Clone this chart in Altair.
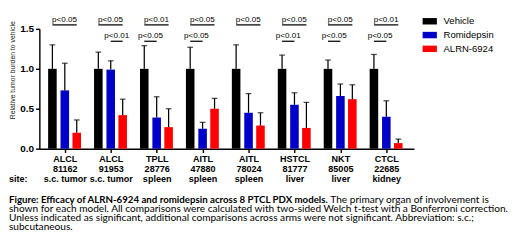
import json
import altair as alt
import pandas as pd

# ---------------- data ----------------
models = ["ALCL", "ALCL", "TPLL", "AITL", "AITL", "HSTCL", "NKT", "CTCL"]
model_ids = ["81162", "91953", "28776", "47880", "78024", "81777", "85005", "22685"]
sites = ["s.c. tumor", "s.c. tumor", "spleen", "spleen", "spleen", "liver", "liver", "kidney"]

series = ["Vehicle", "Romidepsin", "ALRN-6924"]
colors = ["#000000", "#0000c8", "#ff0000"]

vehicle = [1.0, 1.0, 1.0, 1.0, 1.0, 1.0, 1.0, 1.0]
vehicle_sd = [0.30, 0.21, 0.29, 0.27, 0.30, 0.17, 0.11, 0.18]
romidepsin = [0.73, 0.99, 0.39, 0.25, 0.45, 0.55, 0.66, 0.40]
romidepsin_sd = [0.34, 0.11, 0.26, 0.08, 0.24, 0.15, 0.15, 0.20]
alrn = [0.20, 0.42, 0.27, 0.50, 0.29, 0.26, 0.62, 0.07]
alrn_sd = [0.16, 0.20, 0.23, 0.13, 0.16, 0.32, 0.18, 0.05]

top_labels = ["p<0.05", "p<0.05", "p<0.01", "p<0.05", "p<0.05", "p<0.05", "p<0.05", "p<0.01"]
second_labels = [None, "p<0.01", "p<0.05", "p<0.05", None, "p<0.01", "p<0.05", "p<0.05"]
second_pairs = [None, (1, 2), (0, 1), (0, 1), None, (0, 1), (0, 1), (0, 1)]

caption_bold = "Figure: Efficacy of ALRN-6924 and romidepsin across 8 PTCL PDX models."
caption_first = "The primary organ of involvement is"
caption_rest = [
    "shown for each model.  All comparisons were calculated with two-sided Welch t-test with a Bonferroni correction.",
    "Unless indicated as significant, additional comparisons across arms were not significant. Abbreviation: s.c.;",
    "subcutaneous.",
]
y_title = "Relative tumor burden to vehicle"

# ---------------- build tables ----------------
offsets = [-0.27, 0.0, 0.26]
vals = [vehicle, romidepsin, alrn]
sds = [vehicle_sd, romidepsin_sd, alrn_sd]
rows = []
for g in range(len(models)):
    for s in range(3):
        rows.append({
            "pos": g + offsets[s],
            "value": vals[s][g],
            "top": vals[s][g] + sds[s][g],
            "series": series[s],
        })
bars_df = pd.DataFrame(rows)

ann_rows = []
for g in range(len(models)):
    ann_rows.append({"x1": g + offsets[0], "x2": g + offsets[2], "y": 1.55, "label": top_labels[g]})
    if second_labels[g]:
        a, b = second_pairs[g]
        ann_rows.append({"x1": g + offsets[a], "x2": g + offsets[b], "y": 1.345, "label": second_labels[g]})
ann_df = pd.DataFrame(ann_rows)
ann_df["xm"] = (ann_df["x1"] + ann_df["x2"]) / 2

label_arr = [[m, i, s] for m, i, s in zip(models, model_ids, sites)]
label_expr = json.dumps(label_arr) + "[datum.value]"

FONT = "Liberation Sans"
CAP_FONT = "Lato"
W, H = 394, 126

x_scale = alt.Scale(domain=[-0.45, 7.5], nice=False, zero=False)
y_scale = alt.Scale(domain=[0, 1.5], nice=False)

x_axis = alt.Axis(
    values=list(range(len(models))), labelExpr=label_expr, title=None, grid=False,
    domainColor="black", domainWidth=1.5, tickColor="black", tickWidth=1.5, tickSize=4,
    labelPadding=2, labelFont=FONT, labelFontSize=9.5, labelFontWeight="bold",
    labelColor="black", labelLineHeight=10.5, labelAngle=0, labelBaseline="top",
    labelOverlap=False, labelFlush=False,
)
y_axis = alt.Axis(
    values=[0, 0.5, 1.0, 1.5], format=".1f", title=y_title, grid=False,
    domainColor="black", domainWidth=1.5, tickColor="black", tickWidth=1.5, tickSize=4,
    labelPadding=2, labelFont=FONT, labelFontSize=10.5, labelFontWeight="bold",
    labelColor="black", titleFont=FONT, titleFontSize=7.2, titleFontWeight="normal",
    titleColor="#222222", titlePadding=4, titleY=43,
)

legend = alt.Legend(
    title=None, orient="none", legendX=403, legendY=-15.5,
    symbolType="M-1,-0.45L1,-0.45L1,0.45L-1,0.45Z", symbolSize=225, symbolStrokeWidth=0,
    labelFont=FONT, labelFontSize=10, labelColor="black", labelOffset=7, rowPadding=1.5,
)

bars = alt.Chart(bars_df).mark_bar(size=9).encode(
    x=alt.X("pos:Q", scale=x_scale, axis=x_axis),
    y=alt.Y("value:Q", scale=y_scale, axis=y_axis),
    color=alt.Color("series:N", scale=alt.Scale(domain=series, range=colors), legend=legend,
                    sort=series),
)
err = alt.Chart(bars_df).mark_rule(color="black", strokeWidth=1.3).encode(
    x="pos:Q", y="value:Q", y2="top:Q"
)
caps = alt.Chart(bars_df).mark_tick(color="black", orient="horizontal", size=6, thickness=1.3).encode(
    x="pos:Q", y="top:Q"
)
ann_lines = alt.Chart(ann_df).mark_rule(color="black", strokeWidth=1.3).encode(
    x="x1:Q", x2="x2:Q", y="y:Q"
)
ann_text = alt.Chart(ann_df).mark_text(
    font=FONT, fontSize=8.5, color="black", baseline="bottom", dy=-1.5
).encode(x="xm:Q", y="y:Q", text="label:N")

site_txt = alt.Chart(pd.DataFrame({"t": ["site:"]})).mark_text(
    font=FONT, fontSize=9.5, fontWeight="bold", color="black", align="left", baseline="top"
).encode(x=alt.value(-32), y=alt.value(153), text="t:N")

layers = [bars, err, caps, ann_lines, ann_text, site_txt]

cap_y0 = 180
cap_step = 9.6
layers.append(alt.Chart(pd.DataFrame({"t": [caption_bold]})).mark_text(
    font=CAP_FONT, fontSize=10.2, fontWeight="bold", color="black", align="left", baseline="middle"
).encode(x=alt.value(-32), y=alt.value(cap_y0), text="t:N"))
layers.append(alt.Chart(pd.DataFrame({"t": [caption_first]})).mark_text(
    font=CAP_FONT, fontSize=10.6, color="black", align="left", baseline="middle"
).encode(x=alt.value(306), y=alt.value(cap_y0), text="t:N"))
for k, line in enumerate(caption_rest):
    layers.append(alt.Chart(pd.DataFrame({"t": [line]})).mark_text(
        font=CAP_FONT, fontSize=10.6, color="black", align="left", baseline="middle"
    ).encode(x=alt.value(-32), y=alt.value(cap_y0 + cap_step * (k + 1)), text="t:N"))

chart = alt.layer(*layers).properties(width=W, height=H, padding=0).configure_view(stroke=None)

chart.save("out.html", embed_options={"renderer": "svg", "actions": False})
